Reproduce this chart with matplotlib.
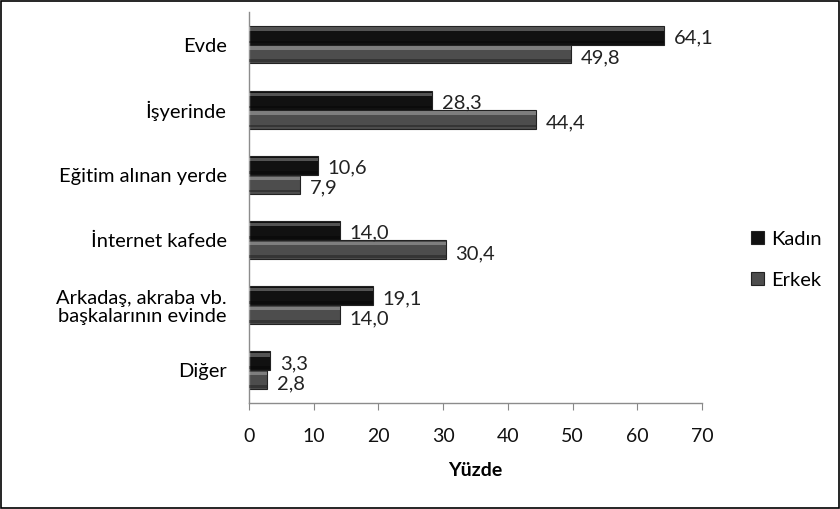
import numpy as np
import matplotlib
matplotlib.use('Agg')
import matplotlib.pyplot as plt
from matplotlib.patches import Rectangle

plt.rcParams['font.family'] = ['Lato', 'DejaVu Sans']

categories = ['Evde', 'İşyerinde', 'Eğitim alınan yerde', 'İnternet kafede',
              'Arkadaş, akraba vb.\nbaşkalarının evinde', 'Diğer']
kadin = [64.1, 28.3, 10.6, 14.0, 19.1, 3.3]
erkek = [49.8, 44.4, 7.9, 30.4, 14.0, 2.8]
series_names = ['Kadın', 'Erkek']
xticks = [0, 10, 20, 30, 40, 50, 60, 70]

fig = plt.figure(figsize=(8.4, 5.09), dpi=100)
ax = fig.add_axes([0.2964, 0.2083, 0.5393, 0.7682])

y = np.arange(len(categories))
h = 0.29
colors = ['#111111', '#4d4d4d']
for vals, off, col, name in [(kadin, -h / 2, colors[0], series_names[0]),
                             (erkek, h / 2, colors[1], series_names[1])]:
    ax.barh(y + off, vals, height=h, color=col, edgecolor='#222222',
            linewidth=0.8, label=name, zorder=2)
    # bevel: light strip near the top edge, darker strip near the bottom
    ax.barh(y + off - h * 0.32, vals, height=h * 0.18, color='white',
            alpha=0.28, linewidth=0, zorder=3)
    ax.barh(y + off + h * 0.36, vals, height=h * 0.14, color='black',
            alpha=0.3, linewidth=0, zorder=3)
    for yi, v in zip(y, vals):
        ax.text(v + 1.5, yi + off + (0.04 if off < 0 else 0.06),
                f'{v:.1f}'.replace('.', ','), va='center', ha='left',
                fontsize=14.5, color='#222222')

ax.set_ylim(len(categories) - 0.5, -0.5)
ax.set_xlim(0, 70)
ax.set_yticks(y)
ax.set_yticklabels(categories, fontsize=14.5, ha='right', multialignment='right',
                   linespacing=1.1)
ax.tick_params(axis='y', length=0, pad=16)
ax.set_xticks(xticks)
ax.set_xticklabels([str(t) for t in xticks], fontsize=14)
ax.tick_params(axis='x', direction='out', length=5, color='#888888',
               pad=13, labelcolor='#111111')
ax.set_xlabel('Yüzde', fontsize=14, fontweight='bold', labelpad=12)

for side in ['top', 'right']:
    ax.spines[side].set_visible(False)
for side in ['left', 'bottom']:
    ax.spines[side].set_color('#8c8c8c')
    ax.spines[side].set_linewidth(1.0)

handles, labels = ax.get_legend_handles_labels()
fig.legend(handles, labels, loc='center left', bbox_to_anchor=(0.873, 0.49),
           frameon=False, fontsize=14.5, handlelength=0.6, handleheight=0.6,
           labelspacing=1.2, handletextpad=0.4)

fig.patches.append(Rectangle((0.001, 0.001), 0.998, 0.997, transform=fig.transFigure,
                             fill=False, edgecolor='black', linewidth=1.2))

fig.savefig('out.png', dpi=100, facecolor='white')
